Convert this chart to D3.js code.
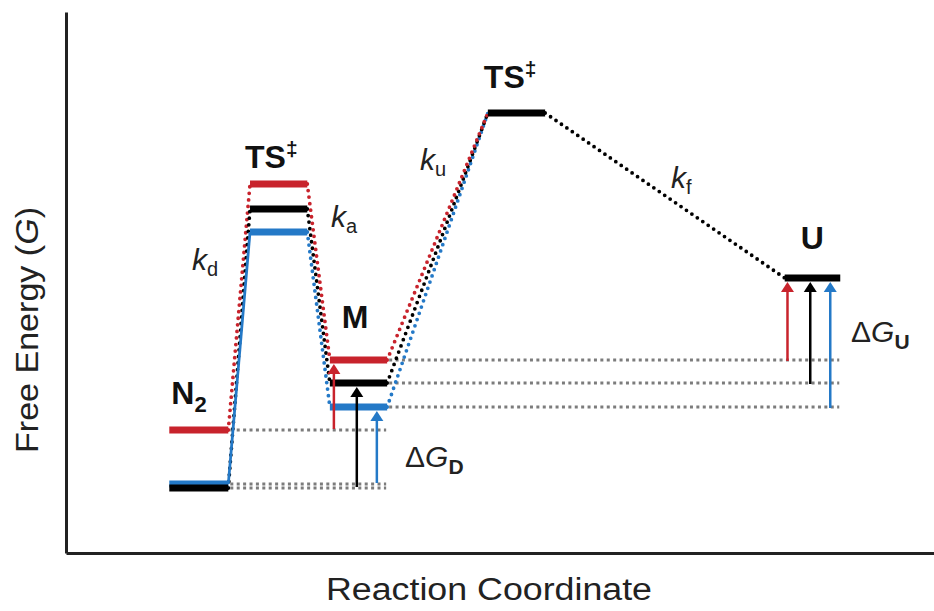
<!DOCTYPE html>
<html>
<head>
<meta charset="utf-8">
<script src="https://cdn.jsdelivr.net/npm/d3@7"></script>
<style>
  html, body { margin: 0; padding: 0; background: #fff; }
  svg { display: block; }
  text { font-family: "Liberation Sans", Arial, Helvetica, sans-serif; fill: #111; }
</style>
</head>
<body>
<svg id="chart" width="934" height="611"></svg>
<script>
// States along the reaction coordinate
const states = ["N2", "TS1", "M", "TS2", "U"];
// Horizontal extent of each state's level (reaction-coordinate units)
const levelStart = [11.9, 21.2, 30.4, 48.6, 82.8];
const levelEnd   = [18.7, 27.8, 37.0, 55.2, 89.2];
// Free energy of each state for the three variants (arbitrary units)
const energyRed   = [12.3, 36.9, 19.3, 44.0, 27.5];
const energyBlack = [6.5, 34.4, 17.0, 44.0, 27.5];
const energyBlue  = [6.9, 32.1, 14.6, 44.0, 27.5];
const variants = ["red", "black", "blue"];

const colors = { red: "#c8232c", black: "#000000", blue: "#2479c7" };
const energies = { red: energyRed, black: energyBlack, blue: energyBlue };

const svg = d3.select("#chart");

const x = d3.scaleLinear().domain([0, 100]).range([66, 934]);
const y = d3.scaleLinear().domain([0, 54.1]).range([553, 12]);

// axes without ticks
svg.append("g")
  .attr("transform", `translate(${x(0)},0)`)
  .call(d3.axisLeft(y).tickValues([]).tickSizeOuter(0))
  .call(g => g.select(".domain").attr("stroke", "#222").attr("stroke-width", 3));
svg.append("g")
  .attr("transform", `translate(0,${y(0)})`)
  .call(d3.axisBottom(x).tickValues([]).tickSizeOuter(0))
  .call(g => g.select(".domain").attr("stroke", "#222").attr("stroke-width", 3));

// axis titles
svg.append("text")
  .attr("x", 489).attr("y", 600)
  .attr("text-anchor", "middle")
  .attr("font-size", 31)
  .attr("textLength", 326)
  .attr("lengthAdjust", "spacingAndGlyphs")
  .style("fill", "#222")
  .text("Reaction Coordinate");

const yt = svg.append("text")
  .attr("transform", "translate(38,330) rotate(-90)")
  .attr("text-anchor", "middle")
  .attr("font-size", 31)
  .attr("textLength", 246)
  .attr("lengthAdjust", "spacingAndGlyphs")
  .style("fill", "#222");
yt.append("tspan").text("Free Energy (");
yt.append("tspan").attr("font-style", "italic").text("G");
yt.append("tspan").text(")");

// grey dotted reference lines
const refG = svg.append("g")
  .attr("stroke", "#7c7c7c")
  .attr("stroke-width", 3)
  .attr("stroke-dasharray", "3 3.4");
// N2 levels carried under M
variants.forEach(v => {
  refG.append("line")
    .attr("x1", x(levelEnd[0]) + 2).attr("x2", x(levelEnd[2]) - 1)
    .attr("y1", y(energies[v][0])).attr("y2", y(energies[v][0]));
});
// M levels carried under U
variants.forEach(v => {
  refG.append("line")
    .attr("x1", x(levelEnd[2]) + 2).attr("x2", x(levelEnd[4]) - 1)
    .attr("y1", y(energies[v][2])).attr("y2", y(energies[v][2]));
});

// connectors between consecutive states
const conG = svg.append("g").attr("fill", "none");
function connector(v, i, solid) {
  const e = energies[v];
  const l = conG.append("line")
    .attr("x1", x(levelEnd[i])).attr("y1", y(e[i]))
    .attr("x2", x(levelStart[i + 1])).attr("y2", y(e[i + 1]))
    .attr("stroke", colors[v]);
  if (solid) {
    l.attr("stroke-width", 2.8);
  } else {
    l.attr("stroke-width", 3.8)
     .attr("stroke-linecap", "round")
     .attr("stroke-dasharray", "0 6.6");
  }
}
// N2 -> TS1
connector("red", 0, false);
connector("black", 0, false);
connector("blue", 0, true);
// TS1 -> M
["blue", "black", "red"].forEach(v => connector(v, 1, false));
// M -> TS2
["blue", "black", "red"].forEach(v => connector(v, 2, false));
// TS2 -> U (shared)
connector("black", 3, false);

// energy levels
const lvlG = svg.append("g").attr("stroke-width", 7);
[0, 1, 2].forEach(i => {
  ["red", "blue", "black"].forEach(v => {
    lvlG.append("line")
      .attr("x1", x(levelStart[i])).attr("x2", x(levelEnd[i]))
      .attr("y1", y(energies[v][i])).attr("y2", y(energies[v][i]))
      .attr("stroke", colors[v]);
  });
});
[3, 4].forEach(i => {
  lvlG.append("line")
    .attr("x1", x(levelStart[i])).attr("x2", x(levelEnd[i]))
    .attr("y1", y(energyBlack[i])).attr("y2", y(energyBlack[i]))
    .attr("stroke", colors.black);
});

// free-energy difference arrows
const arrG = svg.append("g");
function arrow(xp, yFrom, yTo, color) {
  const head = 10, half = 6.5;
  arrG.append("line")
    .attr("x1", xp).attr("x2", xp)
    .attr("y1", yFrom).attr("y2", yTo + head)
    .attr("stroke", color).attr("stroke-width", 2.5);
  arrG.append("path")
    .attr("d", `M${xp},${yTo} L${xp - half},${yTo + head} L${xp + half},${yTo + head} Z`)
    .attr("fill", color);
}
const arrowFrac = { red: 0.07, black: 0.47, blue: 0.82 };
// dimer to intermediate (N2 -> M)
variants.forEach(v => {
  const xs = x(levelStart[2] + (levelEnd[2] - levelStart[2]) * arrowFrac[v]);
  arrow(xs, y(energies[v][0]) - 1, y(energies[v][2]) + 4, colors[v]);
});
// intermediate to unfolded state (M -> U)
const arrowFracU = { red: 0.05, black: 0.46, blue: 0.82 };
variants.forEach(v => {
  const xs = x(levelStart[4] + (levelEnd[4] - levelStart[4]) * arrowFracU[v]);
  arrow(xs, y(energies[v][2]) + 1, y(energies[v][4]) + 4, colors[v]);
});

// state labels
function boldLabel(txt, xp, yp, sup, sub) {
  const t = svg.append("text").attr("x", xp).attr("y", yp)
    .attr("font-size", 32).attr("font-weight", "bold").style("fill", "#111");
  t.append("tspan").text(txt);
  if (sup) t.append("tspan").attr("font-size", 21).attr("dy", -12).text(sup);
  if (sub) t.append("tspan").attr("font-size", 22).attr("dy", 8).text(sub);
}
boldLabel("TS", x(levelStart[1]) - 5, y(energyRed[1]) - 16, "‡");
boldLabel("TS", x(levelStart[3]) - 4, y(energyBlack[3]) - 25, "‡");
boldLabel("N", x(levelStart[0]) + 2, y(energyRed[0]) - 26, null, "2");
boldLabel("M", x(levelStart[2]) + 12, y(energyRed[2]) - 32);
boldLabel("U", x(levelStart[4]) + 16, y(energyBlack[4]) - 29);

// rate constant labels
function rateLabel(sub, xp, yp) {
  const t = svg.append("text").attr("x", xp).attr("y", yp)
    .attr("font-size", 30).style("fill", "#222");
  t.append("tspan").attr("font-style", "italic").text("k");
  t.append("tspan").attr("font-size", 20).attr("dy", 6).text(sub);
}
rateLabel("d", 192, 270);
rateLabel("a", 331, 227);
rateLabel("u", 420, 170);
rateLabel("f", 671, 188);

// ΔG labels
function dgLabel(sub, xp, yp) {
  const t = svg.append("text").attr("x", xp).attr("y", yp)
    .attr("font-size", 30).style("fill", "#222");
  t.append("tspan").text("Δ");
  t.append("tspan").attr("font-style", "italic").text("G");
  t.append("tspan").attr("font-size", 21).attr("font-weight", "bold").attr("dy", 7).text(sub);
}
dgLabel("D", 405, 467);
dgLabel("U", 851, 342);
</script>
</body>
</html>
